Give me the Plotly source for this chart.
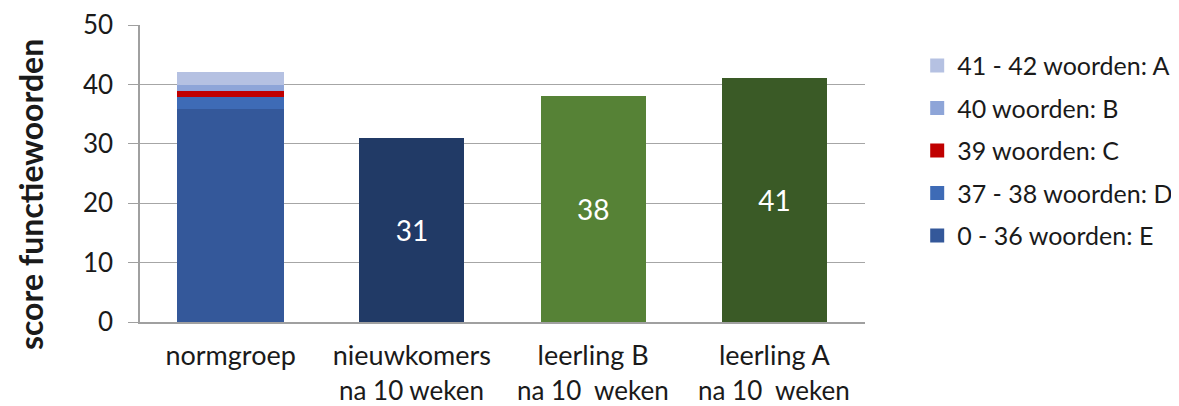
import plotly.graph_objs as go

# categorieen op de x-as (eerste regel als ticklabel, tweede regel eronder)
categorieen = ["normgroep", "nieuwkomers", "leerling B", "leerling A"]
tweede_regel = ["", "na 10 weken", "na 10  weken", "na 10  weken"]

# normgroep opgebouwd uit niveaus (van onder naar boven)
niveau_namen = ["0 - 36 woorden: E", "37 - 38 woorden: D", "39 woorden: C", "40 woorden: B", "41 - 42 woorden: A"]
niveau_waarden = [36, 2, 1, 1, 2]
niveau_kleuren = ["#34589a", "#3e6bb6", "#c00000", "#8ea5d8", "#b5c1e2"]

# scores van de leerlingen
leerling_cats = categorieen[1:]
leerling_scores = [31, 38, 41]
leerling_kleuren = ["#213a66", "#568236", "#3a5a26"]

FONT = "Lato"

traces = []
n = len(niveau_namen)
for i, (naam, waarde, kleur) in enumerate(zip(niveau_namen, niveau_waarden, niveau_kleuren)):
    traces.append(go.Bar(x=[categorieen[0]], y=[waarde], name=naam,
                         marker=dict(color=kleur, line=dict(color=kleur, width=2)),
                         legendgroup=naam, legendrank=n - i, hoverinfo="name+y"))

traces.append(go.Bar(x=leerling_cats, y=leerling_scores, showlegend=False,
                     marker=dict(color=leerling_kleuren, line=dict(width=0)),
                     text=[str(s) for s in leerling_scores],
                     textposition="inside", insidetextanchor="middle",
                     textfont=dict(color="white", size=28, family=FONT)))

# tweede regel van de labels onder de as
annotaties = []
for cat, regel in zip(categorieen, tweede_regel):
    if regel:
        annotaties.append(dict(x=cat, y=-0.229, xref="x", yref="paper",
                               text=regel, showarrow=False,
                               xanchor="center", yanchor="middle",
                               font=dict(size=26)))

# as-titel links, iets onder het midden zoals in het origineel
annotaties.append(dict(x=-0.152, y=0.43, xref="paper", yref="paper",
                       text="<b>score functiewoorden</b>", textangle=-90,
                       showarrow=False, xanchor="center", yanchor="middle",
                       borderpad=0, font=dict(size=32)))

layout = go.Layout(
    barmode="stack",
    bargap=0.42,
    width=1171, height=398,
    margin=dict(l=132, r=314, t=17, b=84, autoexpand=False),
    paper_bgcolor="white", plot_bgcolor="white",
    font=dict(family=FONT, size=26, color="#1a1a1a"),
    xaxis=dict(showline=True, linecolor="#a0a0a0", linewidth=1.5,
               tickfont=dict(size=27), ticks="", automargin=False,
               ticklabelstandoff=9),
    yaxis=dict(range=[0, 50], dtick=10, showgrid=True, gridcolor="#a6a6a6",
               gridwidth=1.2, showline=True, linecolor="#a0a0a0", linewidth=1.5,
               ticks="outside", ticklen=10, tickcolor="#a0a0a0",
               zeroline=False, automargin=False, ticklabelstandoff=10,
               tickfont=dict(size=26)),
    legend=dict(x=1.072, y=0.94, xanchor="left", yanchor="top",
                traceorder="grouped", tracegroupgap=7,
                font=dict(size=25)),
    annotations=annotaties,
    hovermode="closest",
)

fig = go.Figure(data=traces, layout=layout)
fig.write_html("out.html")
